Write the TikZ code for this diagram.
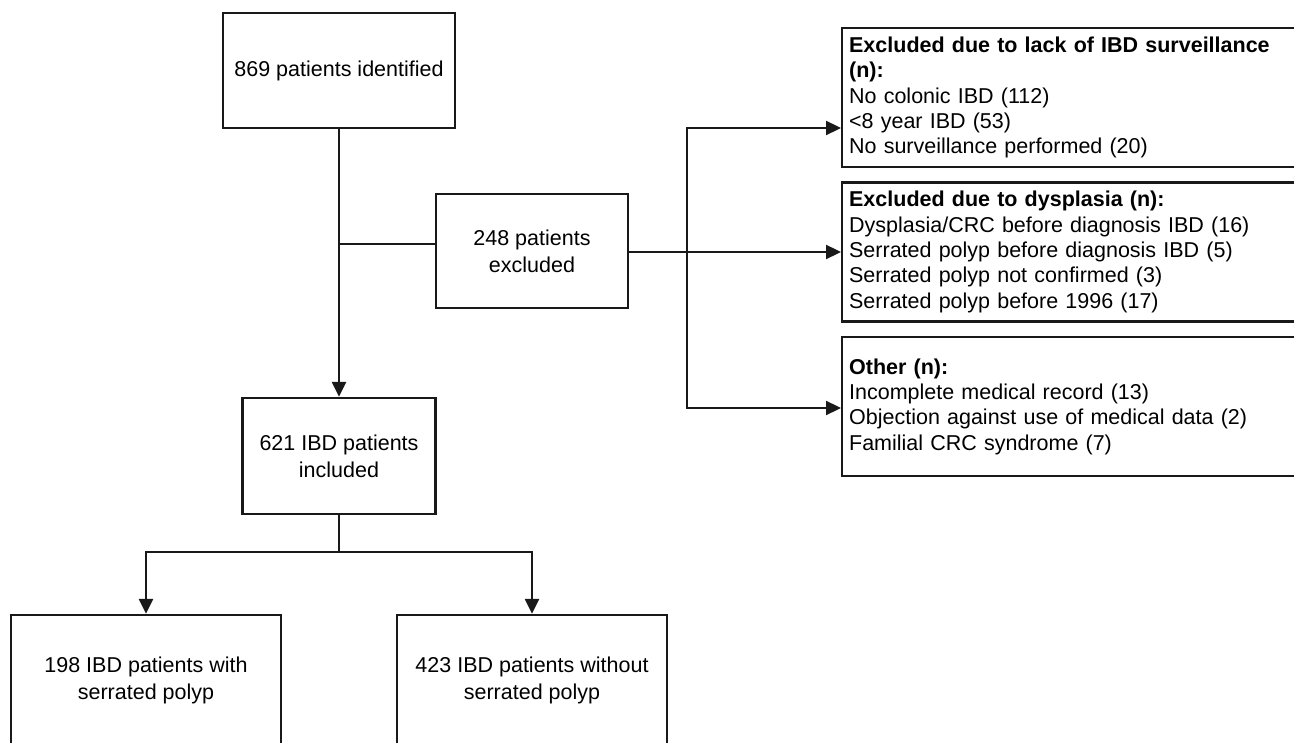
\documentclass[tikz,border=0pt]{standalone}
\usepackage{fontspec}
\setmainfont{Liberation Sans}
\usetikzlibrary{arrows.meta}
\begin{document}
\begin{tikzpicture}[x=1pt,y=-1pt,
  box/.style={draw=black!90, line width=2.3pt, align=center, inner sep=0pt,
    font=\fontsize{21.5}{27}\selectfont},
  sidebox/.style={draw=black!90, line width=2.3pt, anchor=west, align=left,
    text width=466pt, inner xsep=7pt, inner ysep=0pt,
    minimum height=139pt, font=\fontsize{21.5}{25.3}\selectfont},
  link/.style={line width=2.3pt, draw=black!90},
  arr/.style={link, -{Triangle[length=15pt,width=14pt]}}]
\useasboundingbox (0,0) rectangle (1294,743);
\clip (0,0) rectangle (1294,743);
\fill[white] (0,0) rectangle (1294,743);
% main column
\node[box, minimum width=232pt, minimum height=115pt] (A) at (339,70.5) {869 patients identified};
\node[box, minimum width=192pt, minimum height=114pt] (B) at (532,251) {248 patients\\excluded};
\node[box, minimum width=193pt, minimum height=116pt] (C) at (339,456) {621 IBD patients\\included};
\node[box, minimum width=270pt, minimum height=130pt] (D) at (146,680) {198 IBD patients with\\serrated polyp};
\node[box, minimum width=270pt, minimum height=130pt] (E) at (532,680) {423 IBD patients without\\serrated polyp};
% side boxes
\node[sidebox] (R1) at (841,97.5) {\textbf{Excluded due to lack of IBD surveillance}\\\textbf{(n):}\\No colonic IBD (112)\\<8 year IBD (53)\\No surveillance performed (20)};
\node[sidebox] (R2) at (841,252) {\textbf{Excluded due to dysplasia (n):}\\Dysplasia/CRC before diagnosis IBD (16)\\Serrated polyp before diagnosis IBD (5)\\Serrated polyp not confirmed (3)\\Serrated polyp before 1996 (17)};
\node[sidebox] (R3) at (841,406.5) {\textbf{Other (n):}\\Incomplete medical record (13)\\Objection against use of medical data (2)\\Familial CRC syndrome (7)};
% connectors
\coordinate (j1) at (339,244);
\coordinate (br) at (687,252);
\coordinate (j2) at (339,552);
\draw[arr] (A.south) -- (C.north);
\draw[link] (j1) -- (j1 -| B.west);
\draw[arr] (B.east |- br) -- (R2.west |- br);
\draw[arr] (br) |- (R1.west |- 0,128);
\draw[arr] (br) |- (R3.west |- 0,408);
\draw[link] (C.south) -- (j2);
\draw[arr] (j2) -| (D.north);
\draw[arr] (j2) -| (E.north);
\end{tikzpicture}
\end{document}
